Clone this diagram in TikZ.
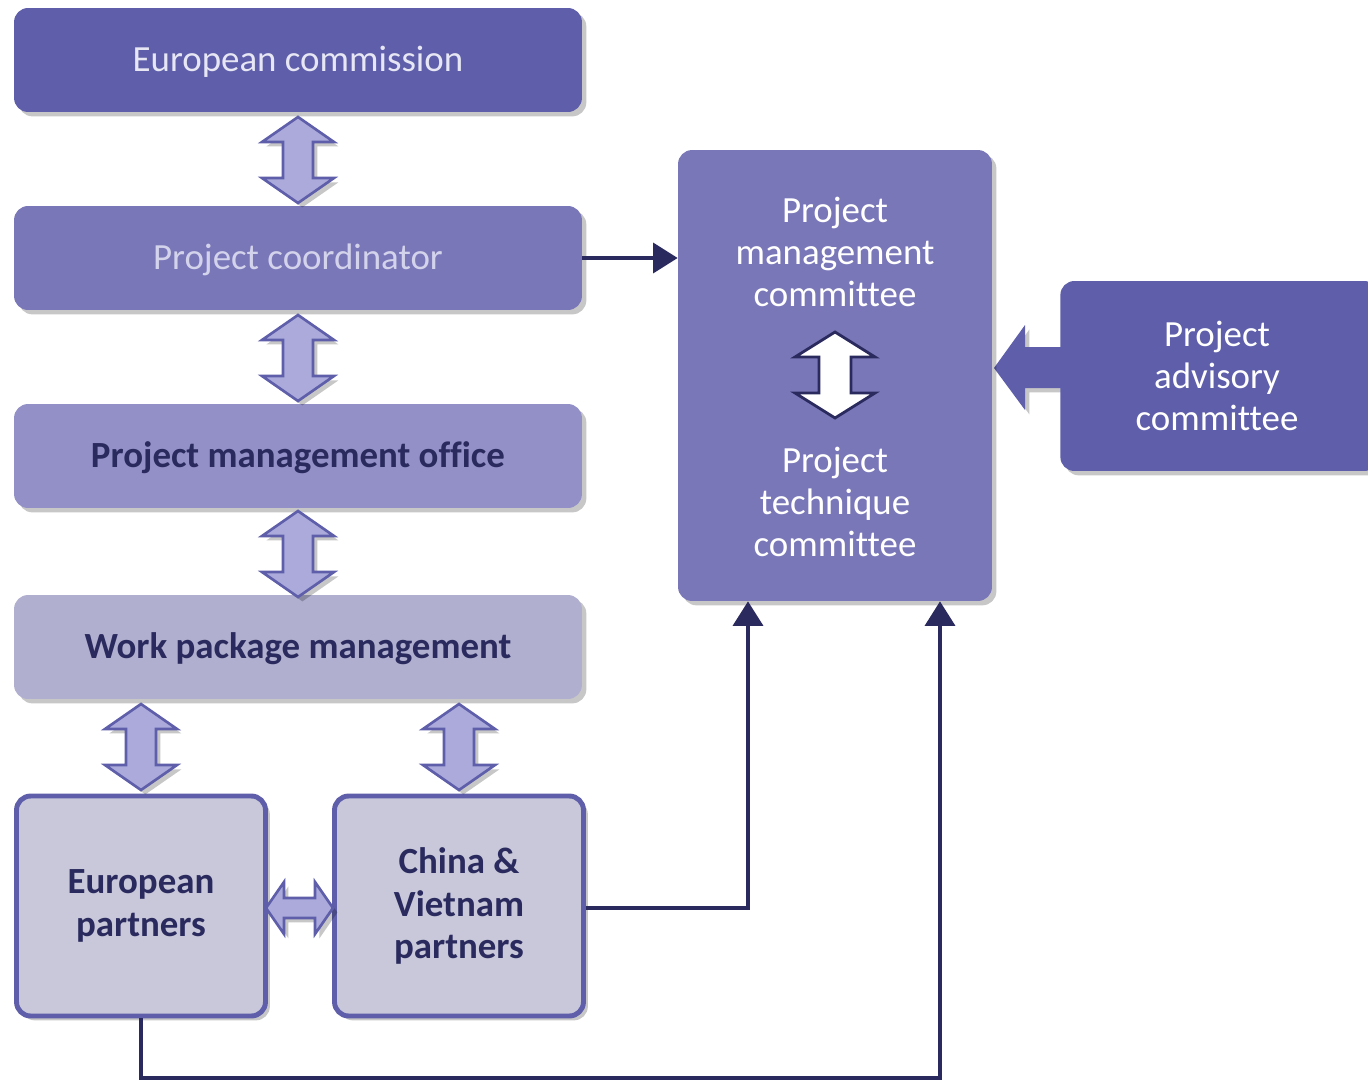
\documentclass[tikz,border=0pt]{standalone}
\usepackage{fontspec}
\setmainfont{Carlito}[Ligatures=NoCommon]
\usetikzlibrary{shadows,arrows.meta}
\definecolor{cdark}{HTML}{5E5EAA}
\definecolor{cmid}{HTML}{7A77B9}
\definecolor{cpmo}{HTML}{9390C7}
\definecolor{cwpm}{HTML}{B0AFCF}
\definecolor{cpart}{HTML}{C8C8DA}
\definecolor{cnavy}{HTML}{2A2A5E}
\definecolor{carrow}{HTML}{ABAADB}
\definecolor{ctxtlight}{HTML}{E6E6F4}
\definecolor{ctxtpc}{HTML}{D4D3EC}
\newcommand\VDArrow[7]{%
\draw[#7] (#1,#2) -- (#1+#4,#2+#6) -- (#1+#5,#2+#6) -- (#1+#5,#3-#6) -- (#1+#4,#3-#6) -- (#1,#3) -- (#1-#4,#3-#6) -- (#1-#5,#3-#6) -- (#1-#5,#2+#6) -- (#1-#4,#2+#6) -- cycle;}
\newcommand\HDArrow[7]{% y, left, right, headhalf, shafthalf, headlen, style
\draw[#7] (#2,#1) -- (#2+#6,#1-#4) -- (#2+#6,#1-#5) -- (#3-#6,#1-#5) -- (#3-#6,#1-#4) -- (#3,#1) -- (#3-#6,#1+#4) -- (#3-#6,#1+#5) -- (#2+#6,#1+#5) -- (#2+#6,#1+#4) -- cycle;}
\tikzset{
  shad/.style={drop shadow={shadow xshift=2.5pt,shadow yshift=-2.5pt,opacity=0.22,fill=black}},
  box/.style={rounded corners=8pt, shad, inner sep=0pt, align=center, font=\fontsize{21}{24}\selectfont},
  wide/.style={box, minimum width=11.36cm, minimum height=2.08cm, text depth=0.1em, text height=1.4em},
  part/.style={box, draw=cdark, line width=2.8pt, fill=cpart, text=cnavy, font=\fontsize{21}{24}\selectfont\bfseries, minimum width=4.98cm, minimum height=4.40cm},
  blk/.style={fill=carrow, draw=cdark, line width=1.5pt, line join=miter, shad},
  conn/.style={draw=cnavy, line width=2.3pt, -{Triangle[length=14pt,width=17pt]}},
}
\begin{document}
\begin{tikzpicture}[x=0.02cm,y=-0.02cm]
\clip (0,0) rectangle (1368,1081);
\fill[white] (0,0) rectangle (1368,1081);
% advisory arrow (under box)
\draw[fill=cdark, draw=none, shad] (994,368) -- (1025,325) -- (1025,347) -- (1100,347) -- (1100,388) -- (1025,388) -- (1025,410) -- cycle;
% boxes
\node[wide, fill=cdark, text=ctxtlight] (ec) at (298,60) {European commission};
\node[wide, fill=cmid, text=ctxtpc] (pc) at (298,258) {Project coordinator};
\node[wide, fill=cpmo, text=cnavy, font=\fontsize{21}{24}\selectfont\bfseries] (pmo) at (298,456) {Project management office};
\node[wide, fill=cwpm, text=cnavy, font=\fontsize{21}{24}\selectfont\bfseries] (wpm) at (298,647) {Work package management};
\node[part] (ep) at (141,906) {European\\partners};
\node[part, minimum height=4.40cm] (cv) at (459,906) {China \&\\Vietnam\\partners};
\node[box, fill=cmid, minimum width=6.28cm, minimum height=9.02cm] (big) at (835,375.5) {};
\node[align=center, text=white, font=\fontsize{21}{24}\selectfont] (pmc) at (835,252) {Project\\management\\committee};
\node[align=center, text=white, font=\fontsize{21}{24}\selectfont] (ptc) at (835,502) {Project\\technique\\committee};
\node[box, fill=cdark, text=white, minimum width=6.36cm, minimum height=3.80cm, anchor=west] (pac) at (1060,376) {};
\node[align=center, text=white, font=\fontsize{21}{24}\selectfont] (pact) at (1217,376) {Project\\advisory\\committee};
% block double arrows
\VDArrow{298}{117}{203}{36}{15}{25}{blk}
\VDArrow{298}{315}{401}{36}{15}{25}{blk}
\VDArrow{298}{511}{597}{36}{15}{25}{blk}
\VDArrow{141}{704}{790}{36}{15}{25}{blk}
\VDArrow{459}{704}{790}{36}{15}{25}{blk}
\HDArrow{908}{266}{333}{26}{10}{18}{blk}
\VDArrow{835}{332}{418}{40}{16}{25}{fill=white, draw=cnavy, line width=1.6pt, line join=miter}
% connectors
\draw[conn] (pc.east) -- (big.west |- pc.east);
\draw[conn] ([yshift=-2*0.02cm]cv.east) -| ([xshift=-87*0.02cm]big.south);
\draw[conn] (ep.south) |- (940,1078) -- ([xshift=105*0.02cm]big.south);
\end{tikzpicture}
\end{document}
